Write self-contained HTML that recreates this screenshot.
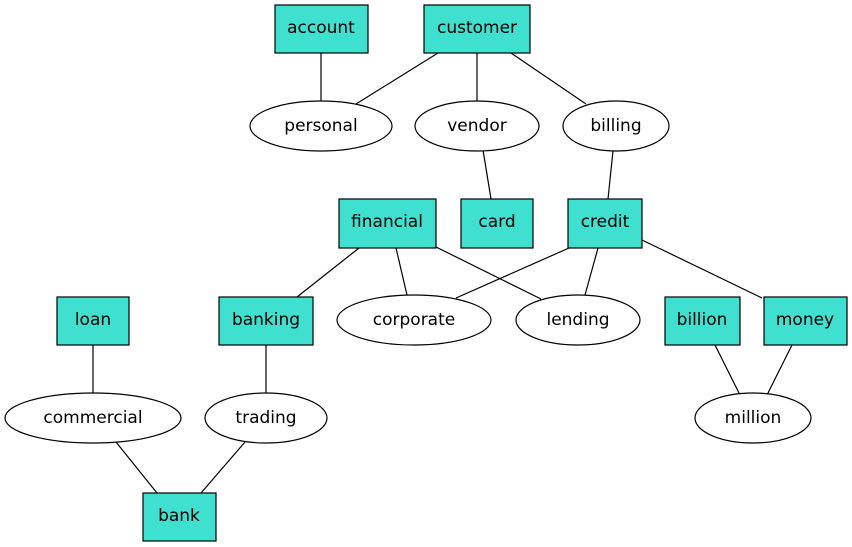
<!DOCTYPE html>
<html><head><meta charset="utf-8"><style>
html,body{margin:0;padding:0;background:#fff;}
svg{display:block;}
text{font-family:"DejaVu Sans","Liberation Sans",sans-serif;font-size:17px;text-anchor:middle;dominant-baseline:central;fill:#000;}
</style></head><body>
<svg width="852" height="547" viewBox="0 0 852 547" xmlns="http://www.w3.org/2000/svg">
<g stroke="#000" stroke-width="1.2" fill="none">
<line x1="321" y1="53" x2="321" y2="101"/>
<line x1="438" y1="53" x2="356" y2="104"/>
<line x1="477" y1="53" x2="477" y2="101"/>
<line x1="511" y1="53" x2="586" y2="104"/>
<line x1="483" y1="150" x2="491" y2="199"/>
<line x1="613" y1="151" x2="608" y2="199"/>
<line x1="359" y1="248" x2="297" y2="297"/>
<line x1="396" y1="248" x2="407" y2="295"/>
<line x1="434" y1="246" x2="541" y2="299"/>
<line x1="569" y1="248" x2="456" y2="298"/>
<line x1="598" y1="248" x2="585" y2="295"/>
<line x1="642" y1="240" x2="762" y2="298"/>
<line x1="93" y1="345" x2="93" y2="393"/>
<line x1="266" y1="345" x2="266" y2="393"/>
<line x1="116" y1="442" x2="157" y2="493"/>
<line x1="245" y1="442" x2="201" y2="493"/>
<line x1="715" y1="345" x2="740" y2="395"/>
<line x1="792" y1="345" x2="767" y2="395"/>
</g>
<g stroke="#000" stroke-width="1.2" fill="#40e0d0">
<rect x="275" y="5" width="93" height="48"/>
<rect x="424" y="5" width="106" height="48"/>
<rect x="339" y="199" width="97" height="49"/>
<rect x="461" y="199" width="72" height="49"/>
<rect x="568" y="199" width="74" height="49"/>
<rect x="57" y="297" width="72" height="48"/>
<rect x="219" y="297" width="94" height="48"/>
<rect x="665" y="297" width="75" height="48"/>
<rect x="764" y="297" width="83" height="48"/>
<rect x="143" y="493" width="73" height="48"/>
</g>
<g stroke="#000" stroke-width="1.2" fill="#fff">
<ellipse cx="321" cy="126" rx="71" ry="25"/>
<ellipse cx="477" cy="126" rx="62" ry="25"/>
<ellipse cx="616" cy="126" rx="53" ry="25"/>
<ellipse cx="414" cy="320" rx="77" ry="25"/>
<ellipse cx="578" cy="320" rx="62" ry="25"/>
<ellipse cx="93" cy="418" rx="88" ry="25"/>
<ellipse cx="266" cy="418" rx="61" ry="25"/>
<ellipse cx="753" cy="418" rx="58" ry="25"/>
</g>
<text x="321" y="28">account</text>
<text x="477" y="28">customer</text>
<text x="387" y="222">financial</text>
<text x="497" y="222">card</text>
<text x="605" y="222">credit</text>
<text x="93" y="320">loan</text>
<text x="266" y="320">banking</text>
<text x="702" y="320">billion</text>
<text x="805" y="320">money</text>
<text x="179" y="516">bank</text>
<text x="321" y="126">personal</text>
<text x="477" y="126">vendor</text>
<text x="616" y="126">billing</text>
<text x="414" y="320">corporate</text>
<text x="578" y="320">lending</text>
<text x="93" y="418">commercial</text>
<text x="266" y="418">trading</text>
<text x="753" y="418">million</text>
</svg>
</body></html>
